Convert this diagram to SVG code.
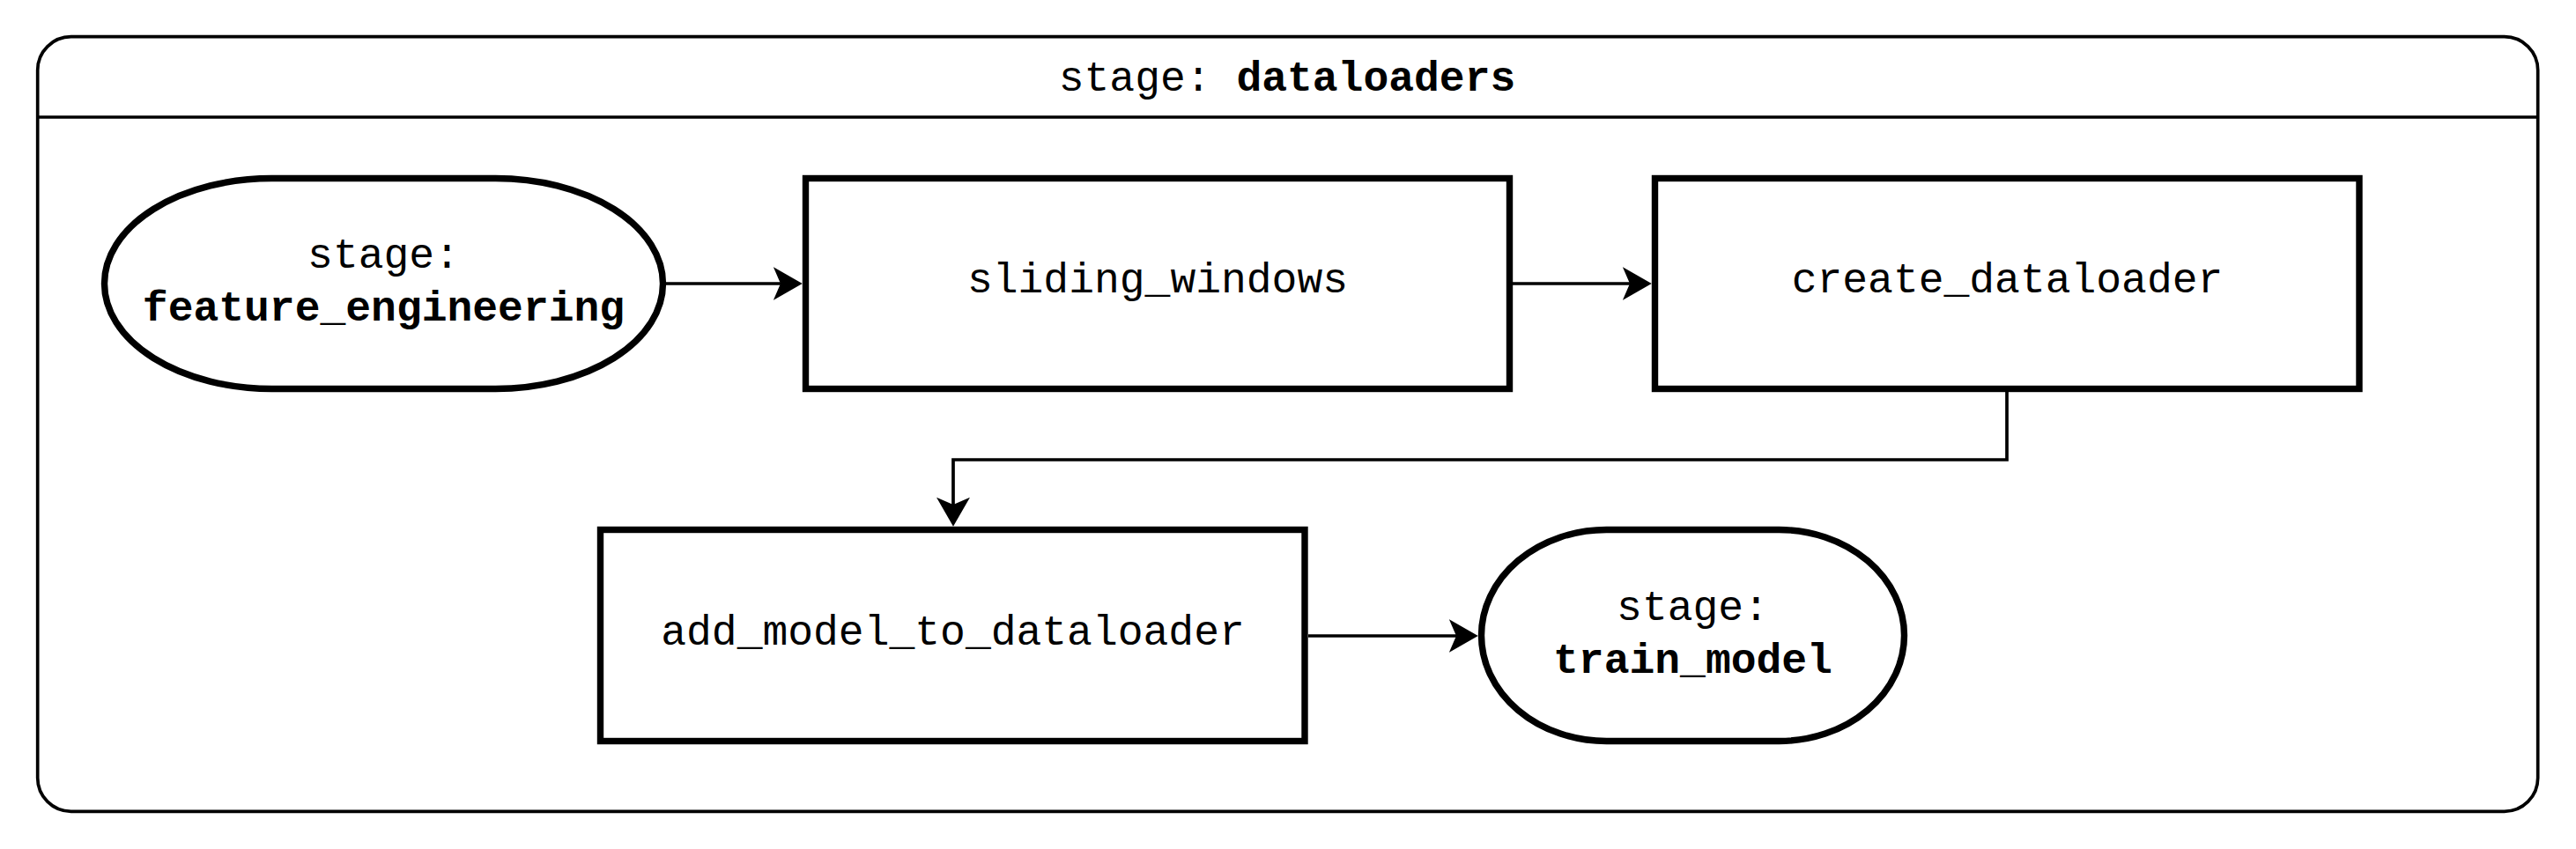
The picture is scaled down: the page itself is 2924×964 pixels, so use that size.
<svg xmlns="http://www.w3.org/2000/svg" width="2924" height="964" viewBox="0 0 2924 964">
<style>
.container{fill:#ffffff;stroke:#000000;stroke-width:3.7}
.node{fill:#ffffff;stroke:#000000;stroke-width:7.4}
.edge{fill:none;stroke:#000000;stroke-width:3.7}
text{font-family:"Liberation Mono","Courier New",monospace;font-size:48px;fill:#000000;text-anchor:middle}
.b{font-weight:bold}
</style>
<defs>
<marker id="arrow" markerUnits="userSpaceOnUse" markerWidth="34" markerHeight="38" refX="8.25" refY="19" orient="auto">
<path d="M0,0 L33,19 L0,38 L8.25,19 Z" fill="#000000"/>
</marker>
</defs>
<rect width="2924" height="964" fill="#ffffff"/>
<g id="stage-dataloaders">
<rect class="container" x="42.7" y="41.7" width="2838" height="879.6" rx="38" ry="38"/>
<line class="container" x1="42.7" y1="133" x2="2880.7" y2="133"/>
<text x="1461" y="103">stage: <tspan class="b">dataloaders</tspan></text>
</g>
<g id="connectors">
<path class="edge" d="M756,322 L886,322" marker-end="url(#arrow)"/>
<path class="edge" d="M1717,322 L1850,322" marker-end="url(#arrow)"/>
<path class="edge" d="M2278,445 L2278,522 L1082,522 L1082,573" marker-end="url(#arrow)"/>
<path class="edge" d="M1485,722 L1653,722" marker-end="url(#arrow)"/>
</g>
<g id="feature_engineering">
<rect class="node" x="118.5" y="202.5" width="634" height="239" rx="190" ry="119.5"/>
<text x="435.5" y="304">stage:</text>
<text class="b" x="435.5" y="364">feature_engineering</text>
</g>
<g id="sliding_windows">
<rect class="node" x="914.5" y="202.5" width="799" height="239"/>
<text x="1314" y="332">sliding_windows</text>
</g>
<g id="create_dataloader">
<rect class="node" x="1878.5" y="202.5" width="799.5" height="239"/>
<text x="2278.5" y="332">create_dataloader</text>
</g>
<g id="add_model_to_dataloader">
<rect class="node" x="681.5" y="601.5" width="799.5" height="240"/>
<text x="1081.5" y="732">add_model_to_dataloader</text>
</g>
<g id="train_model">
<rect class="node" x="1681.5" y="601.5" width="480" height="240" rx="142" ry="120"/>
<text x="1921.5" y="704">stage:</text>
<text class="b" x="1921.5" y="764">train_model</text>
</g>
</svg>
